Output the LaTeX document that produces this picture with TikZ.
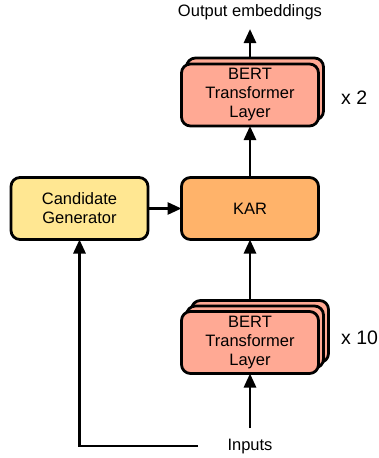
\documentclass[tikz,border=0pt]{standalone}
\usepackage{fontspec}
\setmainfont{Liberation Sans}
\usetikzlibrary{arrows.meta}
\definecolor{bertc}{HTML}{FFA994}
\definecolor{candc}{HTML}{FFE792}
\definecolor{karc}{HTML}{FFB36A}
\tikzset{
  blk/.style={draw=black, line width=2.8pt, rounded corners=9pt, minimum width=137pt, minimum height=62pt, inner sep=0pt, align=center, font=\fontsize{16.5}{19}\selectfont, outer sep=0pt},
  arr/.style={line width=2.8pt, -{Triangle[length=14pt,width=12pt]}},
  lbl/.style={font=\fontsize{16.5}{19}\selectfont, inner sep=0pt},
  mult/.style={font=\fontsize{19.5}{22}\selectfont, inner sep=0pt, anchor=west},
}
\begin{document}
\begin{tikzpicture}[x=1pt,y=-1pt]
\useasboundingbox (0,0) rectangle (379,458);
% top stack (x2)
\node[blk, fill=bertc] (tl2) at (255,89) {};
\node[blk, fill=bertc] (tl1) at (250,95) {BERT\\Transformer\\Layer};
\node[mult] (x2) at (341,98) {x 2};
% KAR and candidate generator
\node[blk, fill=karc] (kar) at (250,208.5) {KAR};
\node[blk, fill=candc] (cand) at (79.5,208.5) {Candidate\\Generator};
% bottom stack (x10)
\node[blk, fill=bertc] (bl3) at (260,331.5) {};
\node[blk, fill=bertc] (bl2) at (255,337) {};
\node[blk, fill=bertc] (bl1) at (250,342.5) {BERT\\Transformer\\Layer};
\node[mult] (x10) at (341,338) {x 10};
% texts
\node[lbl] (out) at (250,12) {Output embeddings};
\node[lbl] (inp) at (250,447) {Inputs};
\coordinate (outend) at (250,29);
\coordinate (inpstart) at (250,428);
\coordinate (inpleft) at (198,446);
% connectors
\draw[arr] (tl1.north |- tl2.north) -- (outend);
\draw[arr] (kar.north) -- (tl1.south);
\draw[arr] (bl1.north |- bl3.north) -- (kar.south);
\draw[arr] (cand.east) -- (kar.west);
\draw[arr] (inpstart) -- (bl1.south);
\draw[arr] (inpleft) -| (cand.south);
\end{tikzpicture}
\end{document}
